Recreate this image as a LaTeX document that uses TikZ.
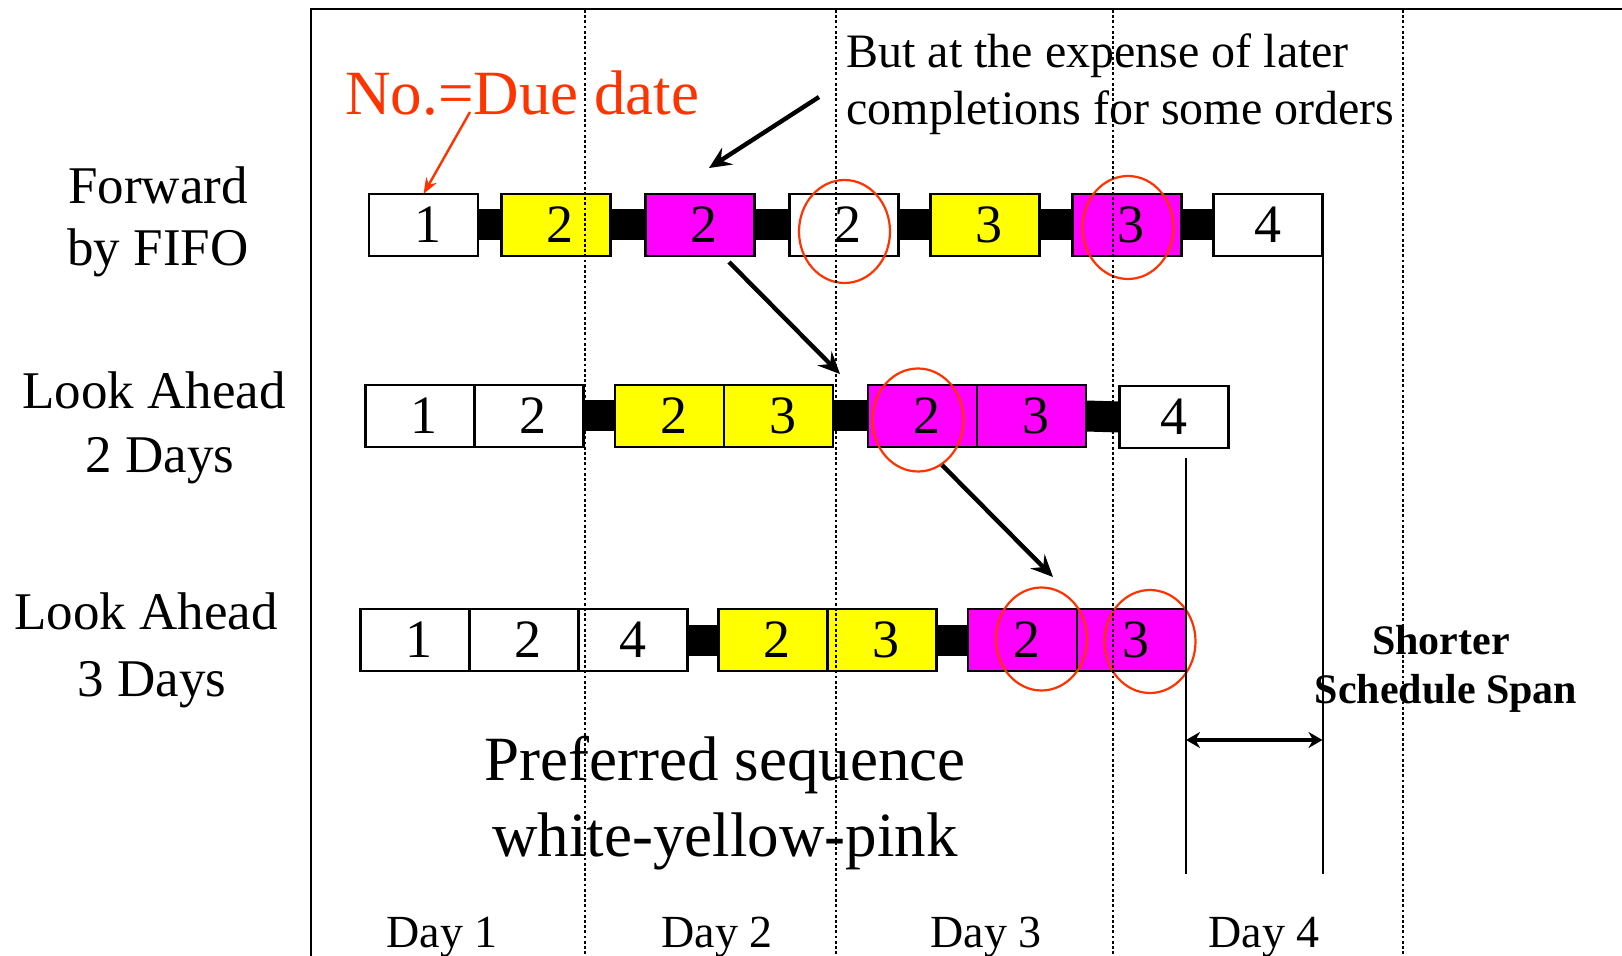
\documentclass[tikz,border=0pt]{standalone}
\usepackage{fontspec}
\setmainfont{Liberation Serif}
\usetikzlibrary{arrows.meta,shapes.geometric}

\definecolor{markred}{RGB}{255,51,0}
\definecolor{jobyellow}{RGB}{255,255,0}
\definecolor{jobpink}{RGB}{255,0,255}

% order number, set slightly right of the cell centre
\newcommand{\ordno}[1]{\hspace*{4pt}#1}

\begin{document}
\begin{tikzpicture}[x=0.5pt,y=-0.5pt,
  cell/.style={draw=black, line width=1.2pt, minimum width=54.5pt, minimum height=31pt,
               inner sep=0pt, outer sep=0pt, font=\fontsize{27pt}{30pt}\selectfont},
  plain/.style={cell, fill=white},
  yel/.style={cell, fill=jobyellow},
  pnk/.style={cell, fill=jobpink},
  bar/.style={line width=15.5pt, line cap=butt, black},
  ring/.style={ellipse, draw=markred, line width=1.1pt, minimum width=45.5pt,
               minimum height=51.5pt, inner sep=0pt},
  label/.style={anchor=base, inner sep=0pt, font=\fontsize{26.5pt}{31pt}\selectfont},
  daylabel/.style={anchor=base, inner sep=0pt, font=\fontsize{23pt}{27pt}\selectfont},
  notetext/.style={anchor=base west, inner sep=0pt, font=\fontsize{24pt}{28pt}\selectfont},
  bigtext/.style={anchor=base, inner sep=0pt, font=\fontsize{31.5pt}{37pt}\selectfont},
  spantext/.style={anchor=base, inner sep=0pt, font=\bfseries\fontsize{21pt}{25pt}\selectfont},
  frameline/.style={line width=1.2pt},
  daysep/.style={line width=1.4pt, dash pattern=on 1.4pt off 1.2pt},
  pointer/.style={line width=2.2pt, -{Stealth[length=11pt,width=10pt,inset=4pt]}},
  redpointer/.style={line width=1.2pt, markred, -{Stealth[length=8pt,width=6pt,inset=2.5pt]}},
  spanline/.style={line width=1pt},
  spanarrow/.style={line width=1.6pt, {Stealth[length=7pt,width=8pt]}-{Stealth[length=7pt,width=8pt]}}
]
\useasboundingbox (0,0) rectangle (1622,956);

% frame of the time axis
\coordinate (frameTL) at (311,9);
\coordinate (frameTR) at (1622,9);
\coordinate (frameBL) at (311,956);
\draw[frameline] (frameTR) -- (frameTL) -- (frameBL);

% row labels
\node[label] (lf1) at (158,204) {Forward};
\node[label] (lf2) at (158,266) {by FIFO};
\node[label] (la1) at (154,409) {Look Ahead};
\node[label] (la2) at (160,473) {2 Days};
\node[label] (lb1) at (146,630) {Look Ahead};
\node[label] (lb2) at (152,696) {3 Days};

% forward by FIFO
\node[plain] (r1a) at (423.5,225) {\ordno{1}};
\node[yel]   (r1b) at (556,225)   {\ordno{2}};
\node[pnk]   (r1c) at (700,225)   {\ordno{2}};
\node[plain] (r1d) at (844,225)   {\ordno{2}};
\node[yel]   (r1e) at (985,225)   {\ordno{3}};
\node[pnk]   (r1f) at (1127,225)  {\ordno{3}};
\node[plain] (r1g) at (1268,225)  {4};
\draw[bar] (r1a.east) -- (r1b.west);
\draw[bar] (r1b.east) -- (r1c.west);
\draw[bar] (r1c.east) -- (r1d.west);
\draw[bar] (r1d.east) -- (r1e.west);
\draw[bar] (r1e.east) -- (r1f.west);
\draw[bar] (r1f.east) -- (r1g.west);

% look ahead 2 days
\node[plain] (r2a) at (420,416)    {\ordno{1}};
\node[plain] (r2b) at (529,416)    {\ordno{2}};
\node[yel]   (r2c) at (669.5,416)  {\ordno{2}};
\node[yel]   (r2d) at (778.5,416)  {\ordno{3}};
\node[pnk]   (r2e) at (922.5,416)  {\ordno{2}};
\node[pnk]   (r2f) at (1031.5,416) {\ordno{3}};
\node[plain] (r2g) at (1174,417)   {4};
\draw[bar] (r2b.east) -- (r2c.west);
\draw[bar] (r2d.east) -- (r2e.west);
\draw[bar] (r2f.east) -- (r2g.west);

% look ahead 3 days
\node[plain] (r3a) at (415,640)    {\ordno{1}};
\node[plain] (r3b) at (524,640)    {\ordno{2}};
\node[plain] (r3c) at (633,640)    {4};
\node[yel]   (r3d) at (773,640)    {\ordno{2}};
\node[yel]   (r3e) at (882,640)    {\ordno{3}};
\node[pnk]   (r3f) at (1022.5,640) {\ordno{2}};
\node[pnk]   (r3g) at (1131.5,640) {\ordno{3}};
\draw[bar] (r3c.east) -- (r3d.west);
\draw[bar] (r3e.east) -- (r3f.west);

% late orders
\node[ring] (c1) at (844.5,231.5) {};
\node[ring] (c2) at (1128,227.5)  {};
\node[ring] (c3) at (918,420)     {};
\node[ring] (c4) at (1041.5,639)  {};
\node[ring] (c5) at (1150,641.5)  {};

% schedule span
\coordinate (spanEndA) at (1322.5,874);
\coordinate (spanTopB) at (1186,458);
\coordinate (spanEndB) at (1186,874);
\coordinate (spanL) at (1186,740);
\coordinate (spanR) at (1322.5,740);
\draw[spanline] (r1g.north east) -- (spanEndA);
\draw[spanline] (spanTopB) -- (spanEndB);
\draw[spanarrow] (spanL) -- (spanR);
\node[spantext] (sp1) at (1441,654) {Shorter};
\node[spantext] (sp2) at (1446,703) {Schedule Span};

% annotations
\node[bigtext, markred, anchor=base west] (due) at (345,115) {No.=Due date};
\coordinate (dueTail) at (470,112);
\draw[redpointer] (dueTail) -- (r1a.north);

\node[notetext] (n1) at (846,68)  {But at the expense of later};
\node[notetext] (n2) at (846,125) {completions for some orders};
\coordinate (noteTail) at (819,97);
\coordinate (noteHead) at (709,168);
\draw[pointer] (noteTail) -- (noteHead);

\coordinate (moveTail) at (729,262);
\coordinate (moveHead) at (840,374);
\draw[pointer] (moveTail) -- (moveHead);
\coordinate (move2Tail) at (942,465);
\coordinate (move2Head) at (1053,577);
\draw[pointer] (move2Tail) -- (move2Head);

\node[bigtext] (pref1) at (725,780) {Preferred sequence};
\node[bigtext] (pref2) at (725,856) {white-yellow-pink};

% day axis
\node[daylabel] (d1) at (442,947)  {Day 1};
\node[daylabel] (d2) at (717,947)  {Day 2};
\node[daylabel] (d3) at (986,947)  {Day 3};
\node[daylabel] (d4) at (1264,947) {Day 4};

\foreach \x/\n in {585/s1, 836/s2, 1113/s3, 1403/s4} {
  \coordinate (\n top) at (\x,10);
  \coordinate (\n bot) at (\x,956);
  \draw[daysep] (\n top) -- (\n bot);
}
\end{tikzpicture}
\end{document}
